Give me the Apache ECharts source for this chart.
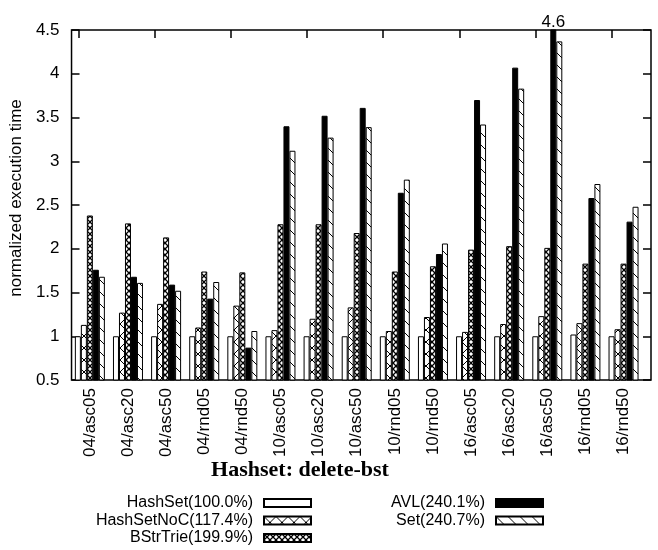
<!DOCTYPE html>
<html>
<head>
<meta charset="utf-8">
<script src="https://cdn.jsdelivr.net/npm/echarts@6/dist/echarts.min.js"></script>
<style>
  html, body { margin: 0; padding: 0; background: #fff; }
  #chart { width: 658px; height: 550px; }
</style>
</head>
<body>
<div id="chart"></div>
<script>
// categories and series data
var categories = ['04/asc05', '04/asc20', '04/asc50', '04/rnd05', '04/rnd50',
  '10/asc05', '10/asc20', '10/asc50', '10/rnd05', '10/rnd50',
  '16/asc05', '16/asc20', '16/asc50', '16/rnd05', '16/rnd50'];
var seriesNames = ['HashSet', 'HashSetNoC', 'BStrTrie', 'AVL', 'Set'];
var seriesShares = ['100.0%', '117.4%', '199.9%', '240.1%', '240.7%'];

var hashSet    = [1.00, 1.00, 1.00, 1.00, 1.00, 1.00, 1.00, 1.00, 1.00, 1.00, 1.00, 1.00, 1.00, 1.02, 1.00];
var hashSetNoC = [1.13, 1.27, 1.37, 1.10, 1.35, 1.07, 1.20, 1.33, 1.06, 1.22, 1.05, 1.14, 1.23, 1.15, 1.08];
var bstrTrie   = [2.38, 2.29, 2.13, 1.74, 1.73, 2.28, 2.28, 2.18, 1.74, 1.80, 1.99, 2.03, 2.01, 1.83, 1.83];
var avl        = [1.76, 1.68, 1.59, 1.43, 0.87, 3.40, 3.52, 3.61, 2.64, 1.94, 3.70, 4.07, 4.6, 2.58, 2.31];
var setVals    = [1.68, 1.61, 1.52, 1.62, 1.06, 3.12, 3.27, 3.39, 2.79, 2.06, 3.42, 3.83, 4.37, 2.74, 2.48];

var yTicks = [0.5, 1, 1.5, 2, 2.5, 3, 3.5, 4, 4.5];

var yMin = yTicks[0], yMax = yTicks[yTicks.length - 1];
var font = 'Liberation Sans';

// fill patterns like gnuplot's
function pattern(size, width, draw) {
  var c = document.createElement('canvas');
  c.width = c.height = size;
  var ctx = c.getContext('2d');
  ctx.fillStyle = '#fff';
  ctx.fillRect(0, 0, size, size);
  ctx.strokeStyle = '#000';
  ctx.lineWidth = width;
  ctx.beginPath();
  draw(ctx, size);
  ctx.stroke();
  return { image: c, repeat: 'repeat' };
}
function back(ctx, s) { ctx.moveTo(-1, -1); ctx.lineTo(s + 1, s + 1); }
function fwd(ctx, s) { ctx.moveTo(-1, s + 1); ctx.lineTo(s + 1, -1); }

var fills = [
  '#fff',
  pattern(12, 1, function (ctx, s) { back(ctx, s); fwd(ctx, s); }),
  pattern(6, 1.3, function (ctx, s) { back(ctx, s); fwd(ctx, s); }),
  '#000',
  pattern(12, 1, back)
];
var values = [hashSet, hashSetNoC, bstrTrie, avl, setVals];

var chart = echarts.init(document.getElementById('chart'));

var series = seriesNames.map(function (n, i) {
  return {
    name: n + '(' + seriesShares[i] + ')',
    type: 'bar',
    xAxisIndex: 1,
    yAxisIndex: 2,
    barWidth: 6,
    barGap: '0%',
    clip: true,
    itemStyle: { color: fills[i], borderColor: '#000', borderWidth: 1 },
    data: values[i].map(function (v) {
      return v > yMax ? { value: v, label: { show: true, position: 'top', distance: -1,
        color: '#000', fontFamily: font, fontSize: 17 } } : v;
    })
  };
});

var legendNames = series.map(function (s) { return s.name; });
var legendCommon = {
  orient: 'vertical',
  align: 'right',
  top: 495,
  padding: 0,
  itemGap: 1.5,
  itemWidth: 47,
  itemHeight: 8,
  icon: 'rect',
  selectedMode: false,
  textStyle: { fontFamily: font, fontSize: 16, color: '#000', padding: [0, 6, 0, 0] }
};

var tickStyle = { color: '#000', width: 1.5 };

chart.setOption({
  animation: false,
  title: {
    text: 'Hashset: delete-bst',
    left: 300,
    top: 459,
    textAlign: 'center',
    padding: 0,
    textStyle: { fontFamily: 'Liberation Serif', fontWeight: 'bold', fontSize: 22, color: '#000' }
  },
  legend: [
    Object.assign({ right: 346, data: legendNames.slice(0, 3) }, legendCommon),
    Object.assign({ right: 114, data: legendNames.slice(3) }, legendCommon)
  ],
  grid: [
    // frame
    { left: 67, right: 7, top: 30, bottom: 170, show: true, borderColor: '#000', borderWidth: 1.5 },
    // bar clusters
    { left: 70.8, right: 15.4, top: 30, bottom: 170 },
    // top tick marks, which sit at the first bar of each cluster
    { left: 59.2, right: 27, top: 30, bottom: 170 }
  ],
  xAxis: [
    { gridIndex: 0, type: 'value', min: 0, max: 1, show: false },
    {
      gridIndex: 1, type: 'category', data: categories,
      axisLine: { show: false }, axisTick: { show: false },
      axisLabel: { rotate: 90, margin: 8, fontFamily: font, fontSize: 17, color: '#000' }
    },
    {
      gridIndex: 2, type: 'category', data: categories, position: 'top',
      axisLine: { show: false }, axisLabel: { show: false },
      axisTick: { show: true, inside: true, length: 8, alignWithLabel: true, lineStyle: tickStyle }
    }
  ],
  yAxis: [
    {
      gridIndex: 0, type: 'value', min: yMin, max: yMax, interval: 0.5,
      name: 'normalized execution time', nameLocation: 'middle', nameGap: 40,
      nameTextStyle: { fontFamily: font, fontSize: 17, color: '#000', padding: [0, 0, 0, 14] },
      axisLine: { show: false }, splitLine: { show: false },
      axisTick: { show: true, inside: true, length: 8, lineStyle: tickStyle },
      axisLabel: { margin: 12, fontFamily: font, fontSize: 17, color: '#000' }
    },
    {
      gridIndex: 0, type: 'value', position: 'right', min: yMin, max: yMax, interval: 0.5,
      axisLine: { show: false }, splitLine: { show: false }, axisLabel: { show: false },
      axisTick: { show: true, inside: true, length: 8, lineStyle: tickStyle }
    },
    { gridIndex: 1, type: 'value', min: yMin, max: yMax, show: false },
    { gridIndex: 2, type: 'value', min: yMin, max: yMax, show: false }
  ],
  series: series
});
</script>
</body>
</html>
